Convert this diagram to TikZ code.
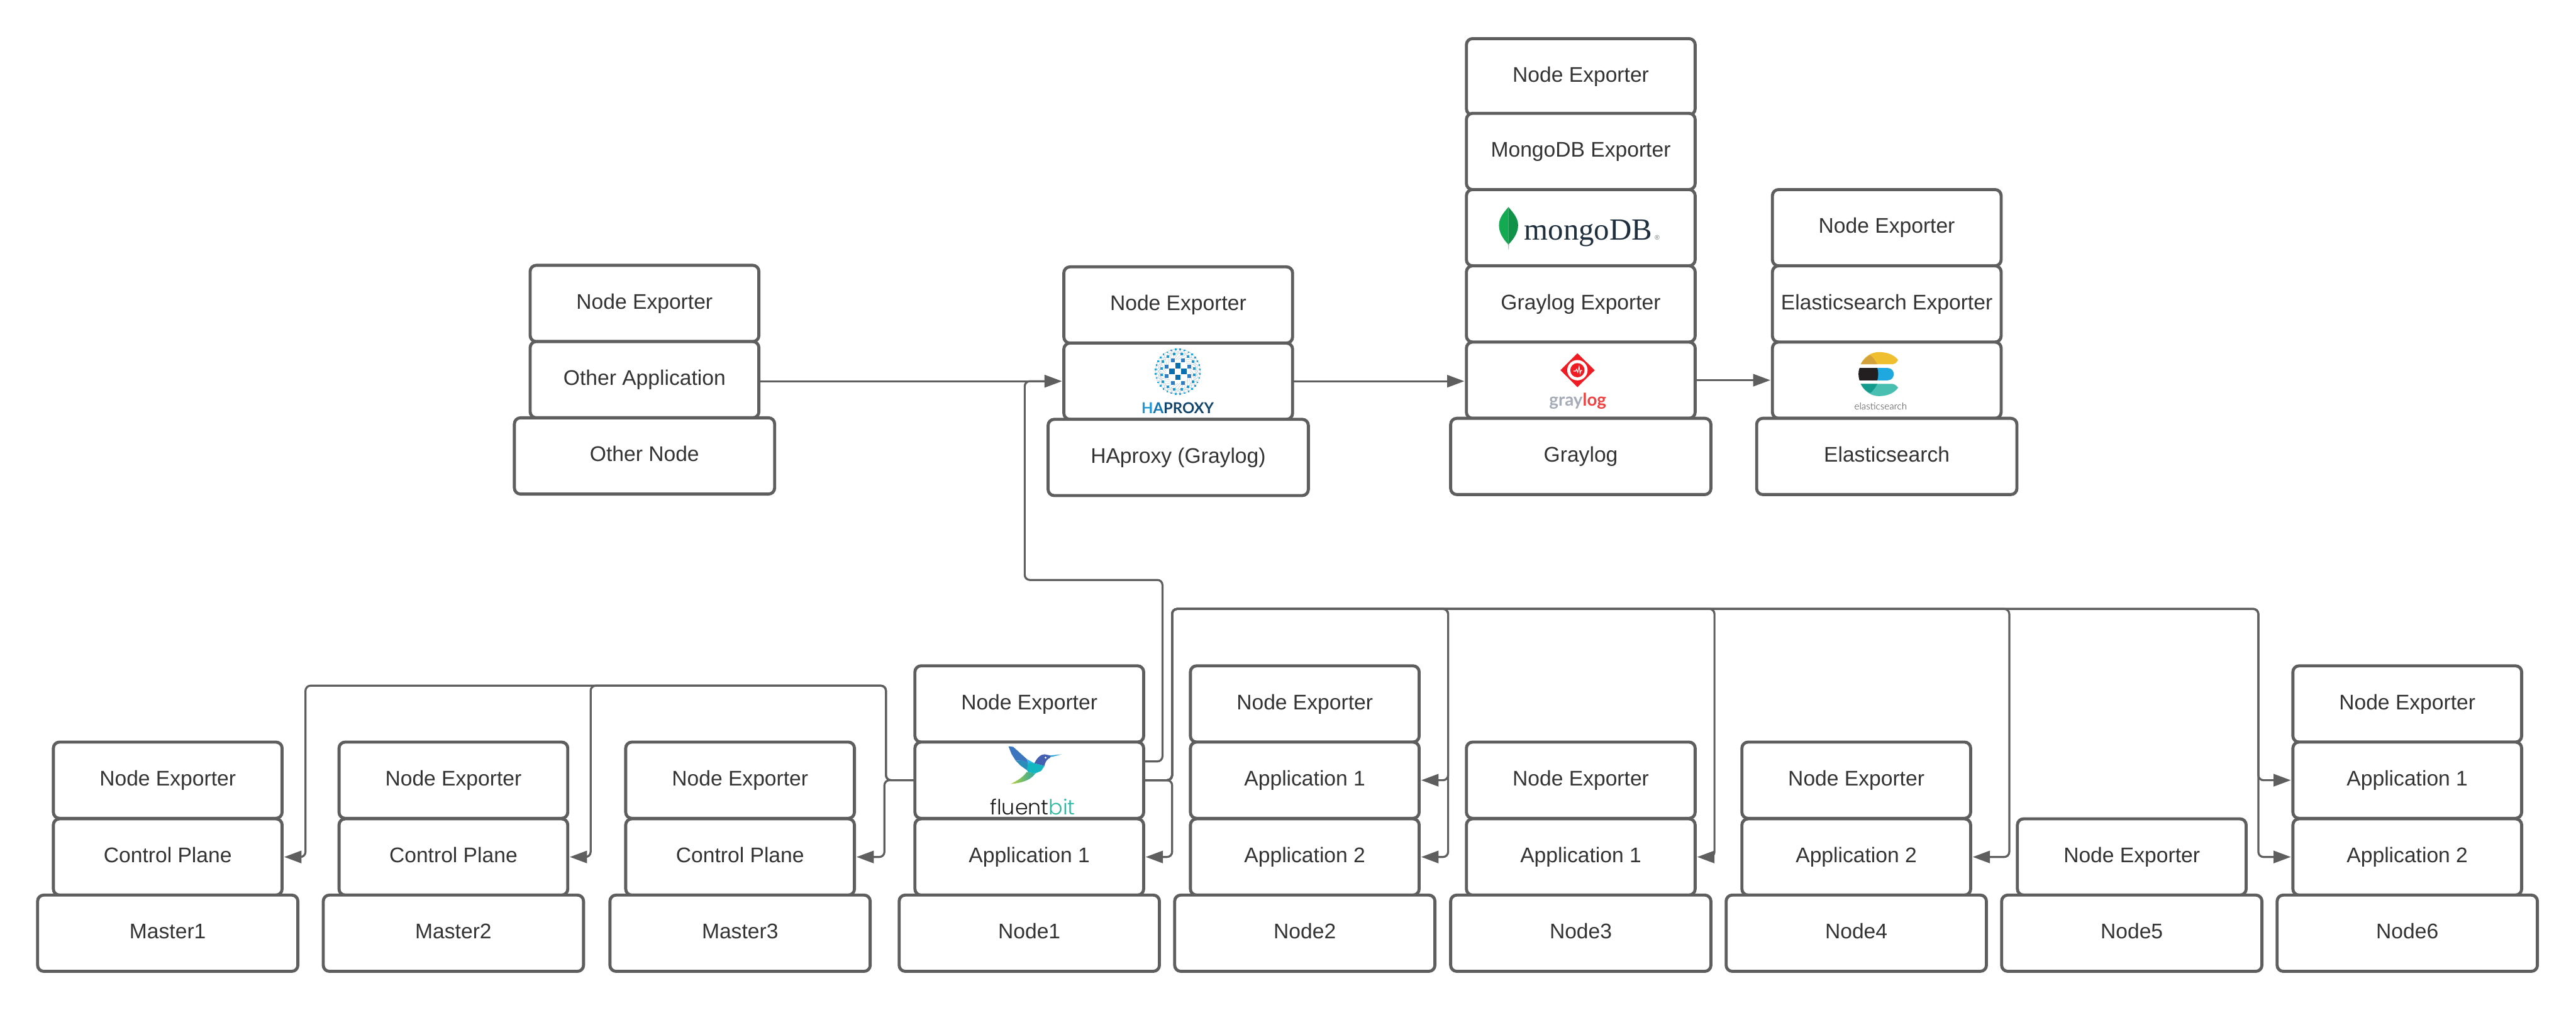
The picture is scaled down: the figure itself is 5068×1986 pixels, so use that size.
\documentclass[tikz,border=0pt]{standalone}
\usepackage{fontspec}
\setmainfont{Liberation Sans}
\newfontfamily\logofb{Poppins Light}
\newfontfamily\logola{Lato}
\newfontfamily\logolal{Lato Light}
\newfontfamily\logose{Liberation Serif}
\usetikzlibrary{arrows.meta}
\definecolor{edge}{HTML}{5E5E5E}
\definecolor{ink}{HTML}{333333}
\tikzset{
  x=0.5pt,y=-0.5pt,
  boxbase/.style={rectangle,rounded corners=6pt,draw=edge,fill=white,line width=3pt,
    inner sep=0pt,outer sep=0pt,minimum height=75pt,text=ink,
    font=\fontsize{20.8pt}{24pt}\selectfont,text height=19pt,text depth=8pt},
  innerbox/.style={boxbase,minimum width=225pt},
  outerbox/.style={boxbase,minimum width=256pt},
  wire/.style={draw=edge,line width=2pt,rounded corners=5pt},
  arrowwire/.style={wire,-{Triangle[length=17pt,width=12pt]},shorten >=2pt},
  logotext/.style={inner sep=0pt,outer sep=0pt,anchor=base},
  logoscope/.style={x=0.16667pt,y=-0.16667pt},
}
\begin{document}
\begin{tikzpicture}
\useasboundingbox (0,0) rectangle (5068,1986);
\fill[white] (0,0) rectangle (5068,1986);

% ---- Other node
\node[innerbox] (oNE) at (1268,597) {Node Exporter};
\node[innerbox] (oApp) at (1268,747) {Other Application};
\node[outerbox] (oBase) at (1268,897) {Other Node};
% ---- HAproxy
\node[innerbox] (hNE) at (2318,600) {Node Exporter};
\node[innerbox] (hLogo) at (2318,750) {};
\node[outerbox] (hBase) at (2318,900) {HAproxy (Graylog)};
% ---- Graylog
\node[innerbox] (gNE) at (3110,151) {Node Exporter};
\node[innerbox] (gME) at (3110,298) {MongoDB Exporter};
\node[innerbox] (gMongo) at (3110,448) {};
\node[innerbox] (gGE) at (3110,598) {Graylog Exporter};
\node[innerbox] (gLogo) at (3110,748) {};
\node[outerbox] (gBase) at (3110,898) {Graylog};
% ---- Elasticsearch
\node[innerbox] (eNE) at (3712,448) {Node Exporter};
\node[innerbox] (eEE) at (3712,598) {Elasticsearch Exporter};
\node[innerbox] (eLogo) at (3712,748) {};
\node[outerbox] (eBase) at (3712,898) {Elasticsearch};
% ---- Masters
\node[innerbox] (m1NE) at (330,1535) {Node Exporter};
\node[innerbox] (m1CP) at (330,1686) {Control Plane};
\node[outerbox] (m1) at (330,1836) {Master1};
\node[innerbox] (m2NE) at (892,1535) {Node Exporter};
\node[innerbox] (m2CP) at (892,1686) {Control Plane};
\node[outerbox] (m2) at (892,1836) {Master2};
\node[innerbox] (m3NE) at (1456,1535) {Node Exporter};
\node[innerbox] (m3CP) at (1456,1686) {Control Plane};
\node[outerbox] (m3) at (1456,1836) {Master3};
% ---- Node1
\node[innerbox] (n1NE) at (2025,1385) {Node Exporter};
\node[innerbox] (n1Fb) at (2025,1535) {};
\node[innerbox] (n1A1) at (2025,1686) {Application 1};
\node[outerbox] (n1) at (2025,1836) {Node1};
% ---- Node2
\node[innerbox] (n2NE) at (2567,1385) {Node Exporter};
\node[innerbox] (n2A1) at (2567,1535) {Application 1};
\node[innerbox] (n2A2) at (2567,1686) {Application 2};
\node[outerbox] (n2) at (2567,1836) {Node2};
% ---- Node3
\node[innerbox] (n3NE) at (3110,1535) {Node Exporter};
\node[innerbox] (n3A1) at (3110,1686) {Application 1};
\node[outerbox] (n3) at (3110,1836) {Node3};
% ---- Node4
\node[innerbox] (n4NE) at (3652,1535) {Node Exporter};
\node[innerbox] (n4A2) at (3652,1686) {Application 2};
\node[outerbox] (n4) at (3652,1836) {Node4};
% ---- Node5
\node[innerbox] (n5NE) at (4194,1686) {Node Exporter};
\node[outerbox] (n5) at (4194,1836) {Node5};
% ---- Node6
\node[innerbox] (n6NE) at (4736,1385) {Node Exporter};
\node[innerbox] (n6A1) at (4736,1535) {Application 1};
\node[innerbox] (n6A2) at (4736,1686) {Application 2};
\node[outerbox] (n6) at (4736,1836) {Node6};

% ---- Routing waypoints
\coordinate (busL) at (1743,1349);
\coordinate (t1) at (601,1686);
\coordinate (t2) at (1162,1686);
\coordinate (t3) at (1740,1686);
\coordinate (busR) at (2306,1198);
\coordinate (d1) at (2306,1686);
\coordinate (b2a) at (2849,1535);
\coordinate (b2b) at (2849,1686);
\coordinate (b3) at (3373,1686);
\coordinate (b4) at (3953,1686);
\coordinate (b6a) at (4443,1535);
\coordinate (b6b) at (4443,1686);
\coordinate (upA) at (2287,1141);
\coordinate (upB) at (2016,1141);

% ---- Connectors
\draw[arrowwire] (oApp.east |- hLogo.west) -- (hLogo.west);
\draw[arrowwire] (hLogo.east) -- (gLogo.west |- hLogo.east);
\draw[arrowwire] (gLogo.east) -- (eLogo.west);
\draw[arrowwire] ([yshift=18.5pt]n1Fb.east) -| (upA) -- (upB) |- (hLogo.west);
\draw[arrowwire] (n1Fb.west) -| (busL) -| (t1) -- (m1CP.east);
\draw[arrowwire] (n1Fb.west) -| (busL) -| (t2) -- (m2CP.east);
\draw[arrowwire] (n1Fb.west) -| (t3) -- (m3CP.east);
\draw[arrowwire] (n1Fb.east) -| (d1) -- (n1A1.east);
\draw[arrowwire] (n1Fb.east) -| (busR) -| (b2a) -- (n2A1.east);
\draw[arrowwire] (n1Fb.east) -| (busR) -| (b2b) -- (n2A2.east);
\draw[arrowwire] (n1Fb.east) -| (busR) -| (b3) -- (n3A1.east);
\draw[arrowwire] (n1Fb.east) -| (busR) -| (b4) -- (n4A2.east);
\draw[arrowwire] (n1Fb.east) -| (busR) -| (b6a) -- (n6A1.west);
\draw[arrowwire] (n1Fb.east) -| (busR) -| (b6b) -- (n6A2.west);

% ---- fluentbit logo
\begin{scope}[shift={(1940,1460)},logoscope]
  \fill[color={rgb,255:red,59;green,118;blue,190}] (132,25) -- (160,28) -- (240,100) -- (248,125) -- (210,108) -- (175,110) -- (150,70) -- cycle;
  \fill[color={rgb,255:red,42;green,140;blue,184}] (175,110) -- (210,108) -- (248,125) -- (247,145) -- (240,165) -- (205,140) -- cycle;
  \fill[color={rgb,255:red,43;green,181;blue,232}] (240,100) -- (285,125) -- (248,127) -- cycle;
  \shade[left color={rgb,255:red,181;green,207;blue,58},right color={rgb,255:red,46;green,167;blue,160}] (240,176) -- (290,185) .. controls (270,215) and (230,240) .. (145,247) .. controls (190,225) and (220,205) .. cycle;
  \fill[color={rgb,255:red,18;green,181;blue,192}] (248,125) -- (285,125) -- (345,140) -- (325,170) -- (290,185) -- (250,178) -- (240,165) -- cycle;
  \fill[color={rgb,255:red,68;green,96;blue,176}] (285,125) .. controls (300,95) and (320,72) .. (345,72) -- (385,80) -- (378,92) .. controls (355,105) and (348,120) .. (345,140) -- cycle;
  \fill[color={rgb,255:red,43;green,168;blue,216}] (375,79) -- (447,72) -- (385,88) -- cycle;
  \fill[white] (351,92) circle (6);
  \node[logotext] (fbWord) at (275,428) {\resizebox{83.5pt}{!}{\logofb\textcolor[HTML]{1A1A1A}{fluent}\textcolor[HTML]{2BB8A0}{bit}}};
\end{scope}

% ---- HAProxy logo
\begin{scope}[shift={(2220,670)},logoscope]
  \foreach \a in {0,11.25,...,349}{
    \draw[color={rgb,255:red,190;green,205;blue,216},line width=0.35pt]
      (292,182)+(\a:135) -- +(\a+22.5:103) -- +(\a:70);
    \draw[color={rgb,255:red,190;green,205;blue,216},line width=0.35pt]
      (292,182)+(\a:135) -- +(\a-22.5:103);
  }
  \foreach \px/\py in {292/148,257/183,328/183,292/217}
    \fill[color={rgb,255:red,10;green,111;blue,176}] (\px-16,\py-16) rectangle (\px+16,\py+16);
  \foreach \px/\py in {264/116,321/116,226/155,360/155,226/211,360/211,264/250,321/250}
    \fill[color={rgb,255:red,47;green,126;blue,193}] (\px-11.5,\py-11.5) rectangle (\px+11.5,\py+11.5);
  \foreach \px/\py in {271/80,314/80,232/94,353/94,203/124,382/124,195/164,390/164,195/202,390/202,203/243,382/243,232/273,353/273,271/288,314/288}
    \fill[color={rgb,255:red,27;green,154;blue,214}] (\px-7.5,\py-7.5) rectangle (\px+7.5,\py+7.5);
  \foreach \px/\py in {279/52,306/52,253/58,331/58,229/68,355/68,208/82,376/82,190/100,394/100,176/122,408/122,166/145,418/145,161/170,423/170,161/196,423/196,166/221,418/221,176/246,408/246,190/268,394/268,208/286,376/286,229/301,355/301,253/310,331/310,279/315,306/315}
    \fill[color={rgb,255:red,34;green,165;blue,220}] (\px-4.5,\py-4.5) rectangle (\px+4.5,\py+4.5);
  \node[logotext] (haWord) at (291,430) {\resizebox{71.2pt}{!}{\logola\bfseries\textcolor[HTML]{1F9AD6}{H}\textcolor[HTML]{1476B0}{A}\textcolor[HTML]{10456E}{PROXY}}};
\end{scope}

% ---- Graylog logo
\begin{scope}[shift={(3030,670)},logoscope]
  \fill[color={rgb,255:red,240;green,28;blue,36}] (220,75) -- (322,175) -- (220,275) -- (120,175) -- cycle;
  \fill[white] (220,175) circle (60);
  \fill[color={rgb,255:red,240;green,28;blue,36}] (220,175) circle (42);
  \draw[white,line width=0.7pt] (197,180) -- (210,180) -- (215,170) -- (222,187) -- (230,155) -- (236,192) -- (241,176) -- (248,178);
  \node[logotext] (glWord) at (222,385) {\resizebox{56pt}{!}{\logola\bfseries\textcolor[HTML]{A5ACB8}{gray}\textcolor[HTML]{F04040}{log}}};
\end{scope}

% ---- MongoDB logo
\begin{scope}[shift={(2930,375)},logoscope]
  \fill[color={rgb,255:red,184;green,196;blue,194}] (108,295) -- (119,295) -- (115,347) -- (112,347) -- cycle;
  \fill[color={rgb,255:red,19;green,170;blue,82}] (113,97) .. controls (85,130) and (57,160) .. (57,205) .. controls (57,255) and (90,295) .. (113,318) -- cycle;
  \fill[color={rgb,255:red,16;green,147;blue,72}] (113,97) .. controls (140,130) and (170,160) .. (170,205) .. controls (170,255) and (135,295) .. (113,318) -- cycle;
  \node[logotext] (mgWord) at (584,292) {\resizebox*{126pt}{26.3pt}{\logose\textcolor[HTML]{1F2F3D}{mongoDB}}};
  \node[logotext] (mgReg) at (991,292) {\fontsize{6.5pt}{7pt}\selectfont\textcolor[HTML]{6A7278}{®}};
\end{scope}

% ---- Elasticsearch logo
\begin{scope}[shift={(3630,680)},logoscope]
  \fill[color={rgb,255:red,240;green,191;blue,48}] (92,110) .. controls (115,60) and (160,38) .. (200,38) .. controls (250,38) and (290,55) .. (313,85) .. controls (300,105) and (290,110) .. (280,110) -- cycle;
  \fill[color={rgb,255:red,212;green,162;blue,58}] (92,110) .. controls (105,85) and (125,68) .. (148,55) .. controls (170,72) and (180,95) .. (190,110) -- cycle;
  \fill[color={rgb,255:red,31;green,168;blue,224}] (190,132) -- (250,132) .. controls (275,132) and (287,150) .. (287,168) .. controls (287,186) and (275,205) .. (250,205) -- (190,205) -- cycle;
  \fill[color={rgb,255:red,35;green,31;blue,32}] (85,132) -- (190,132) .. controls (197,150) and (197,185) .. (190,205) -- (85,205) .. controls (77,180) and (77,155) .. cycle;
  \fill[color={rgb,255:red,72;green,191;blue,176}] (92,226) -- (280,226) .. controls (292,226) and (305,238) .. (313,248) .. controls (290,280) and (250,298) .. (200,298) .. controls (160,298) and (115,275) .. cycle;
  \fill[color={rgb,255:red,21;green,155;blue,140}] (92,226) -- (190,226) .. controls (180,245) and (170,262) .. (148,280) .. controls (125,270) and (105,250) .. cycle;
  \node[logotext] (esWord) at (210,380) {\resizebox{51.7pt}{!}{\logolal\textcolor{ink}{elasticsearch}}};
\end{scope}
\end{tikzpicture}
\end{document}
